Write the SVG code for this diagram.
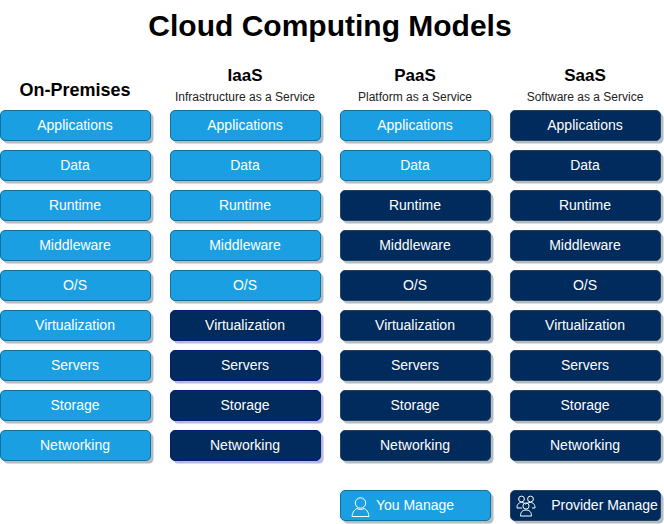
<svg xmlns="http://www.w3.org/2000/svg" width="664" height="524" viewBox="0 0 664 524">
<style>
text{font-family:"Liberation Sans",Arial,sans-serif;text-anchor:middle}
.t{font-size:30px;font-weight:bold;fill:#000}
.h{font-size:17px;font-weight:bold;fill:#000}
.o{font-size:18px;font-weight:bold;fill:#000}
.s{font-size:12px;fill:#222}
.l{font-size:14px;fill:#fff}
.sh{fill:#b4bcc6}
.sp{fill:#b9b9dc}
.b{fill:#1b9fe3;stroke:#10739e}
.n{fill:#002b5c;stroke:#23445d}
.p{fill:#002b5c;stroke:#001f6e}
.i{fill:none;stroke:#fff;stroke-width:1}
</style>
<defs>
<g id="bb"><rect class="sh" x="3" y="3" width="150" height="30" rx="4.5"/><rect class="b" width="150" height="30" rx="4.5"/></g>
<g id="bn"><rect class="sh" x="3" y="3" width="150" height="30" rx="4.5"/><rect class="n" width="150" height="30" rx="4.5"/></g>
<g id="bp"><rect class="sp" x="3" y="3" width="150" height="30" rx="4.5"/><rect class="p" width="150" height="30" rx="4.5"/></g>
</defs>
<text class="t" x="330" y="36">Cloud Computing Models</text>
<g id="headers">
<text class="o" x="75" y="96">On-Premises</text>
<text class="h" x="245" y="81">IaaS</text><text class="s" x="245" y="101">Infrastructure as a Service</text>
<text class="h" x="415" y="81">PaaS</text><text class="s" x="415" y="101">Platform as a Service</text>
<text class="h" x="585" y="81">SaaS</text><text class="s" x="585" y="101">Software as a Service</text>
</g>
<g id="connectors"/>
<g id="onprem">
<g id="onprem-applications"><use href="#bb" x="0.5" y="110.5"/><text class="l" x="75" y="130">Applications</text></g>
<g id="onprem-data"><use href="#bb" x="0.5" y="150.5"/><text class="l" x="75" y="170">Data</text></g>
<g id="onprem-runtime"><use href="#bb" x="0.5" y="190.5"/><text class="l" x="75" y="210">Runtime</text></g>
<g id="onprem-middleware"><use href="#bb" x="0.5" y="230.5"/><text class="l" x="75" y="250">Middleware</text></g>
<g id="onprem-os"><use href="#bb" x="0.5" y="270.5"/><text class="l" x="75" y="290">O/S</text></g>
<g id="onprem-virtualization"><use href="#bb" x="0.5" y="310.5"/><text class="l" x="75" y="330">Virtualization</text></g>
<g id="onprem-servers"><use href="#bb" x="0.5" y="350.5"/><text class="l" x="75" y="370">Servers</text></g>
<g id="onprem-storage"><use href="#bb" x="0.5" y="390.5"/><text class="l" x="75" y="410">Storage</text></g>
<g id="onprem-networking"><use href="#bb" x="0.5" y="430.5"/><text class="l" x="75" y="450">Networking</text></g>
</g>
<g id="iaas">
<g id="iaas-applications"><use href="#bb" x="170.5" y="110.5"/><text class="l" x="245" y="130">Applications</text></g>
<g id="iaas-data"><use href="#bb" x="170.5" y="150.5"/><text class="l" x="245" y="170">Data</text></g>
<g id="iaas-runtime"><use href="#bb" x="170.5" y="190.5"/><text class="l" x="245" y="210">Runtime</text></g>
<g id="iaas-middleware"><use href="#bb" x="170.5" y="230.5"/><text class="l" x="245" y="250">Middleware</text></g>
<g id="iaas-os"><use href="#bb" x="170.5" y="270.5"/><text class="l" x="245" y="290">O/S</text></g>
<g id="iaas-virtualization"><use href="#bp" x="170.5" y="310.5"/><text class="l" x="245" y="330">Virtualization</text></g>
<g id="iaas-servers"><use href="#bp" x="170.5" y="350.5"/><text class="l" x="245" y="370">Servers</text></g>
<g id="iaas-storage"><use href="#bp" x="170.5" y="390.5"/><text class="l" x="245" y="410">Storage</text></g>
<g id="iaas-networking"><use href="#bp" x="170.5" y="430.5"/><text class="l" x="245" y="450">Networking</text></g>
</g>
<g id="paas">
<g id="paas-applications"><use href="#bb" x="340.5" y="110.5"/><text class="l" x="415" y="130">Applications</text></g>
<g id="paas-data"><use href="#bb" x="340.5" y="150.5"/><text class="l" x="415" y="170">Data</text></g>
<g id="paas-runtime"><use href="#bn" x="340.5" y="190.5"/><text class="l" x="415" y="210">Runtime</text></g>
<g id="paas-middleware"><use href="#bn" x="340.5" y="230.5"/><text class="l" x="415" y="250">Middleware</text></g>
<g id="paas-os"><use href="#bn" x="340.5" y="270.5"/><text class="l" x="415" y="290">O/S</text></g>
<g id="paas-virtualization"><use href="#bn" x="340.5" y="310.5"/><text class="l" x="415" y="330">Virtualization</text></g>
<g id="paas-servers"><use href="#bn" x="340.5" y="350.5"/><text class="l" x="415" y="370">Servers</text></g>
<g id="paas-storage"><use href="#bn" x="340.5" y="390.5"/><text class="l" x="415" y="410">Storage</text></g>
<g id="paas-networking"><use href="#bn" x="340.5" y="430.5"/><text class="l" x="415" y="450">Networking</text></g>
</g>
<g id="saas">
<g id="saas-applications"><use href="#bn" x="510.5" y="110.5"/><text class="l" x="585" y="130">Applications</text></g>
<g id="saas-data"><use href="#bn" x="510.5" y="150.5"/><text class="l" x="585" y="170">Data</text></g>
<g id="saas-runtime"><use href="#bn" x="510.5" y="190.5"/><text class="l" x="585" y="210">Runtime</text></g>
<g id="saas-middleware"><use href="#bn" x="510.5" y="230.5"/><text class="l" x="585" y="250">Middleware</text></g>
<g id="saas-os"><use href="#bn" x="510.5" y="270.5"/><text class="l" x="585" y="290">O/S</text></g>
<g id="saas-virtualization"><use href="#bn" x="510.5" y="310.5"/><text class="l" x="585" y="330">Virtualization</text></g>
<g id="saas-servers"><use href="#bn" x="510.5" y="350.5"/><text class="l" x="585" y="370">Servers</text></g>
<g id="saas-storage"><use href="#bn" x="510.5" y="390.5"/><text class="l" x="585" y="410">Storage</text></g>
<g id="saas-networking"><use href="#bn" x="510.5" y="430.5"/><text class="l" x="585" y="450">Networking</text></g>
</g>
<g id="legend-you">
<use href="#bb" x="340.5" y="490.5"/>
<circle class="i" cx="360.500" cy="503" r="5.200"/>
<path class="i" d="M352 516.500C352.500 511.500 355 509.500 357 508.500C359 509.800 362 509.800 364 508.500C366.500 509.500 368.500 511.500 369 516.500Z"/>
<text class="l" x="415" y="510">You Manage</text>
</g>
<g id="legend-provider">
<use href="#bn" x="510.5" y="490.5"/>
<g style="stroke-width:.9">
<circle class="i" cx="521.500" cy="499" r="2.900"/><circle class="i" cx="530.500" cy="499" r="2.900"/>
<path class="i" d="M517 508C517 504 519 502.500 521.500 502.500C523.500 502.500 524.500 503.200 525.500 504.200C526.500 503.200 528 502.500 530.500 502.500C533 502.500 535 504 535 508H532M522 508H517"/>
<circle class="i" cx="526" cy="506" r="3.100"/>
<path class="i" d="M520.500 516C520.500 511.500 523 510 526 510C529 510 531.500 511.500 531.500 516Z"/>
</g>
<text class="l" x="604.500" y="510">Provider Manage</text>
</g>
</svg>
